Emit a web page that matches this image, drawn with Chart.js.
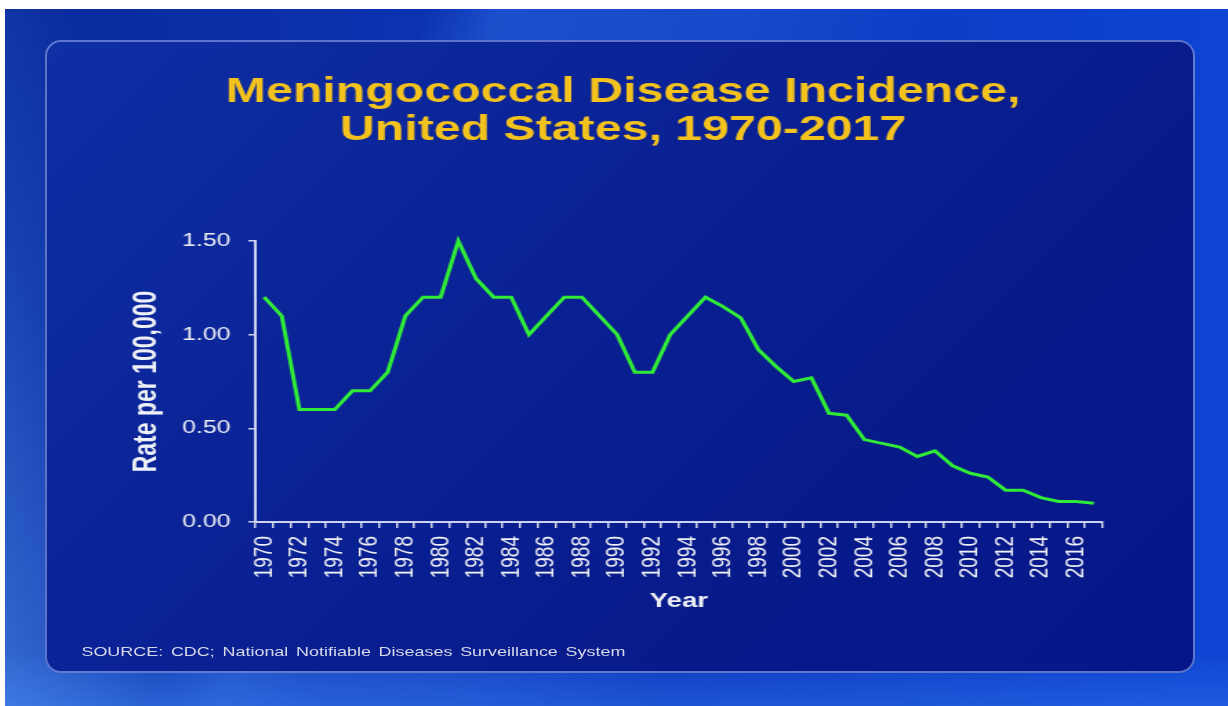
<!DOCTYPE html>
<html>
<head>
<meta charset="utf-8">
<script src="https://cdn.jsdelivr.net/npm/chart.js@4/dist/chart.umd.min.js"></script>
<style>
    html, body { margin: 0; padding: 0; background: #ffffff; }
    body { width: 1228px; height: 706px; position: relative; overflow: hidden; }
    .slide {
        position: absolute; left: 5px; top: 9px; right: 0; bottom: 0;
        background:
            linear-gradient(112deg, rgba(0,0,0,0) 28%, rgba(70,140,255,0.30) 33%, rgba(70,140,255,0.18) 50%, rgba(0,0,0,0) 62%),
            linear-gradient(70deg, rgba(90,160,255,0.55) 0%, rgba(60,130,240,0.25) 12%, rgba(0,0,0,0) 22%),
            linear-gradient(0deg, rgba(50,120,240,0.45) 0%, rgba(0,0,0,0) 8%),
            linear-gradient(90deg, #0a2a9a 0%, #0b35b8 45%, #0d44d2 100%);
    }
    .panel {
        position: absolute; left: 45px; top: 40px; width: 1150px; height: 633px;
        border: 2px solid rgba(140, 165, 235, 0.65);
        border-radius: 16px;
        box-sizing: border-box;
        background: linear-gradient(135deg, #0f2fa5 0%, #0a2396 35%, #071a8a 70%, #06168a 100%);
    }
    .stretch {
        position: absolute; left: 0; top: 0; width: 890px; height: 706px;
        transform: scaleX(1.38); transform-origin: 0 0;
    }
    .source {
        position: absolute; left: 59px; top: 644px;
        font: 13px "Liberation Sans", Arial, sans-serif;
        color: #d6d9ec; white-space: nowrap; word-spacing: 2px;
    }
</style>
</head>
<body>
<div class="slide"></div>
<div class="panel"></div>
<div class="stretch">
    <canvas id="incidenceChart"></canvas>
    <div class="source">SOURCE: CDC; National Notifiable Diseases Surveillance System</div>
</div>
<script>
const years = ["1970","1971","1972","1973","1974","1975","1976","1977","1978","1979",
    "1980","1981","1982","1983","1984","1985","1986","1987","1988","1989",
    "1990","1991","1992","1993","1994","1995","1996","1997","1998","1999",
    "2000","2001","2002","2003","2004","2005","2006","2007","2008","2009",
    "2010","2011","2012","2013","2014","2015","2016","2017"];
const rates = [1.20, 1.10, 0.60, 0.60, 0.60, 0.70, 0.70, 0.80, 1.10, 1.20,
    1.20, 1.50, 1.30, 1.20, 1.20, 1.00, 1.10, 1.20, 1.20, 1.10,
    1.00, 0.80, 0.80, 1.00, 1.10, 1.20, 1.15, 1.09, 0.92, 0.83,
    0.75, 0.77, 0.58, 0.57, 0.44, 0.42, 0.40, 0.35, 0.38, 0.30,
    0.26, 0.24, 0.17, 0.17, 0.13, 0.11, 0.11, 0.10];
const yTicks = [0, 0.5, 1.0, 1.5];

const titleLines = ["Meningococcal Disease Incidence,", "United States, 1970-2017"];
const axisColor = "#cdd3ee";
const textColor = "#eef0f8";

Chart.defaults.font.family = '"Liberation Sans", Arial, sans-serif';

const ctx = document.getElementById("incidenceChart").getContext("2d");
new Chart(ctx, {
    type: "line",
    data: {
        labels: years,
        datasets: [{
            label: "Rate per 100,000",
            data: rates,
            borderColor: "#30ec36",
            borderWidth: 3,
            pointRadius: 0,
            tension: 0,
            fill: false,
            clip: 6
        }]
    },
    options: {
        responsive: true,
        maintainAspectRatio: false,
        animation: false,
        // left padding is wider so the title sits a bit right of the page centre, as in the slide
        layout: { padding: { top: 0, left: 104, right: 91, bottom: 80 } },
        plugins: {
            legend: { display: false },
            tooltip: { enabled: false },
            title: {
                display: true,
                text: titleLines,
                color: "#f4c21c",
                font: { size: 35, weight: "bold", lineHeight: 38 / 35 },
                padding: { top: 73, bottom: 92 }
            }
        },
        scales: {
            x: {
                offset: true,
                grid: { offset: true, drawOnChartArea: false, drawTicks: true, tickLength: 6, color: axisColor, lineWidth: 1.5 },
                border: { display: true, color: axisColor, width: 2 },
                ticks: {
                    autoSkip: false,
                    minRotation: 90,
                    maxRotation: 90,
                    padding: 8,
                    color: textColor,
                    font: { size: 19 },
                    callback: function (value, index) {
                        return index % 2 === 0 ? this.getLabelForValue(value) : "";
                    }
                },
                title: {
                    display: true,
                    text: "Year",
                    color: textColor,
                    font: { size: 20, weight: "bold" },
                    padding: { top: 0, bottom: 13 }
                },
                afterFit: function (scale) { scale.height = 104; }
            },
            y: {
                min: 0,
                max: 1.5,
                afterBuildTicks: function (scale) {
                    scale.ticks = yTicks.map(v => ({ value: v }));
                },
                grid: { drawOnChartArea: false, drawTicks: true, tickLength: 5, color: axisColor, lineWidth: 1.5 },
                border: { display: true, color: axisColor, width: 2 },
                ticks: {
                    padding: 13,
                    color: textColor,
                    font: { size: 18 },
                    callback: value => Number(value).toFixed(2)
                },
                title: {
                    display: true,
                    text: "Rate per 100,000",
                    color: textColor,
                    font: { size: 23, weight: "bold" },
                    padding: { top: -11.5, bottom: 0 }
                },
                afterFit: function (scale) { scale.width = 81; }
            }
        }
    }
});
</script>
</body>
</html>
